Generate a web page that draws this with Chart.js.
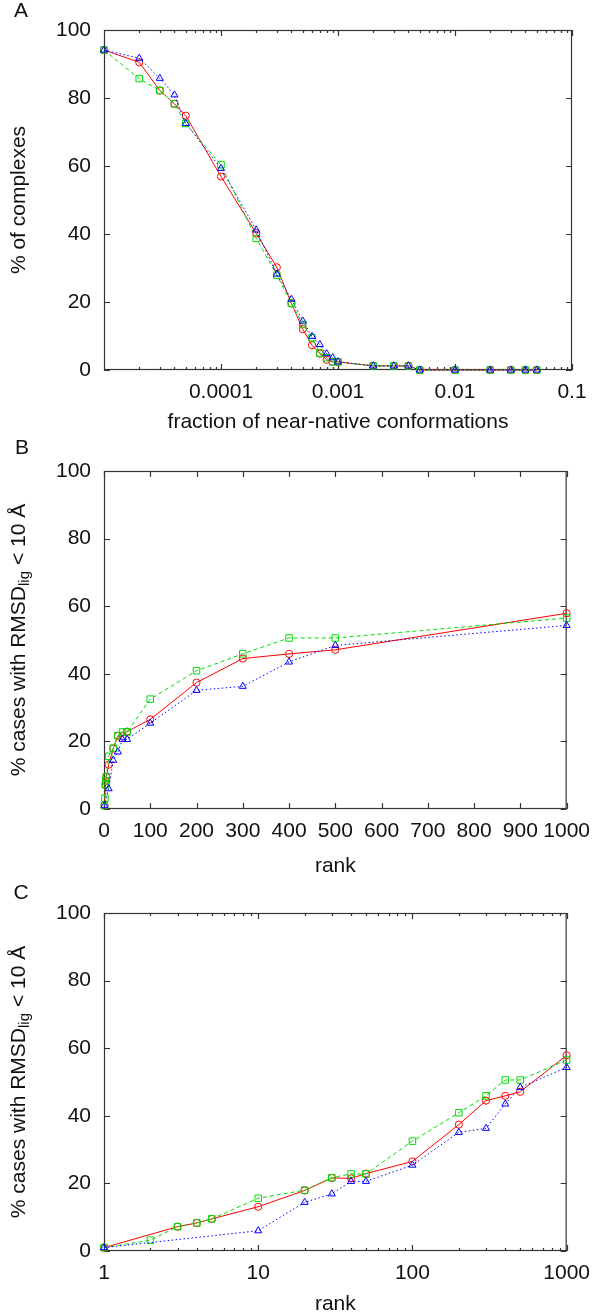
<!DOCTYPE html>
<html>
<head>
<meta charset="utf-8">
<script src="https://cdn.jsdelivr.net/npm/chart.js@4.4.1/dist/chart.umd.min.js"></script>
<style>
    html, body { margin: 0; padding: 0; background: #fff; }
    #page { position: relative; width: 600px; height: 1313px; overflow: hidden; }
    canvas { position: absolute; left: 0; }
</style>
</head>
<body>
<div id="page">
    <canvas id="chartA" width="600" height="440" style="top:0px"></canvas>
    <canvas id="chartB" width="600" height="441" style="top:440px"></canvas>
    <canvas id="chartC" width="600" height="432" style="top:881px"></canvas>
</div>
<script>
// Panel A: % of complexes vs fraction of near-native conformations
var fractions = [1e-5, 2e-5, 3e-5, 4e-5, 5e-5, 1e-4, 2e-4, 3e-4, 4e-4, 5e-4, 6e-4, 7e-4, 8e-4, 9e-4, 1e-3, 2e-3, 3e-3, 4e-3, 5e-3, 1e-2, 2e-2, 3e-2, 4e-2, 5e-2]
var complexesRed   = [94.1, 90.5, 82.2, 78.3, 74.8, 56.9, 40.2, 30.2, 19.6, 12.0, 7.3, 4.8, 3.0, 2.4, 2.4, 1.2, 1.2, 1.2, 0, 0, 0, 0, 0, 0]
var complexesGreen = [94.1, 85.7, 82.2, 78.3, 72.5, 60.4, 38.7, 27.9, 19.6, 13.4, 9.5, 5.0, 3.6, 2.4, 2.4, 1.2, 1.2, 1.2, 0, 0, 0, 0, 0, 0]
var complexesBlue  = [94.1, 91.7, 85.8, 80.9, 72.5, 59.3, 41.2, 28.2, 20.8, 14.4, 9.9, 7.5, 4.8, 3.6, 2.4, 1.2, 1.2, 1.2, 0, 0, 0, 0, 0, 0]

// Panels B and C: % cases with RMSD_lig < 10 A vs rank (null = no point)
var ranks = [1, 2, 3, 4, 5, 10, 20, 30, 40, 50, 100, 200, 300, 400, 500, 1000]
var casesRed   = [1.0, null, 7.2, 8.3, 9.5, 13.1, 17.9, 21.6, 21.5, 22.9, 26.5, 37.4, 44.5, 45.9, 47.1, 57.9]
var casesGreen = [1.0, 3.2, 7.2, 8.3, 9.5, 15.6, 18.0, 21.7, 22.8, 22.8, 32.5, 40.9, 45.9, 50.6, 50.6, 56.5]
var casesBlue  = [1.0, null, null, null, null, 6.0, 14.4, 16.9, 20.6, 20.6, 25.4, 35.1, 36.3, 43.5, 48.4, 54.3]

// Tick values and labels
var percentTicks = [0, 20, 40, 60, 80, 100]
var percentLabels = ['0', '20', '40', '60', '80', '100']
var fractionTicks = [1e-4, 1e-3, 1e-2, 1e-1]
var fractionLabels = ['0.0001', '0.001', '0.01', '0.1']
var rankLinearTicks = [0, 100, 200, 300, 400, 500, 600, 700, 800, 900, 1000]
var rankLinearLabels = ['0', '100', '200', '300', '400', '500', '600', '700', '800', '900', '1000']
var rankLogTicks = [1, 10, 100, 1000]
var rankLogLabels = ['1', '10', '100', '1000']

var RED = '#ff0000'
var GREEN = '#00dd00'
var BLUE = '#0000ff'
var TEXT = '#111111'
var FONT_FAMILY = '"Liberation Sans", Arial, Helvetica, sans-serif'
var FONT_SIZE = 21

/**
 * Pair x and y values into points, leaving out the missing ones
 */
function points(xs, ys) {
    var out = []
    for (var i = 0; i < xs.length; i++) {
        if (ys[i] !== null) out.push({ x: xs[i], y: ys[i] })
    }
    return out
}

/**
 * The three gnuplot-style series: red solid circles, green dashed squares, blue dotted triangles
 */
function makeDatasets(xs, red, green, blue) {
    var sets = [
        { data: points(xs, red), borderColor: RED, pointStyle: 'circle', pointRadius: 3.6, borderDash: [], order: 3 },
        { data: points(xs, green), borderColor: GREEN, pointStyle: 'rect', pointRadius: 4.6, borderDash: [4, 3], order: 2 },
        { data: points(xs, blue), borderColor: BLUE, pointStyle: 'triangle', pointRadius: 4.1, borderDash: [1.5, 2.5], order: 1 }
    ]
    return sets.map(ds => Object.assign({
        showLine: true,
        borderWidth: 1,
        pointBorderWidth: 1,
        pointBorderColor: ds.borderColor,
        backgroundColor: 'rgba(0,0,0,0)',
        pointBackgroundColor: 'rgba(0,0,0,0)',
        tension: 0,
        clip: false
    }, ds))
}

/**
 * Minor tick values of a log axis (2..9 within every decade)
 */
function logMinorTicks(min, max) {
    var out = []
    for (var e = Math.floor(Math.log10(min)); e < Math.ceil(Math.log10(max)); e++) {
        for (var m = 2; m <= 9; m++) {
            var v = m * Math.pow(10, e)
            if (v > min && v < max) out.push(v)
        }
    }
    return out
}

// Border box with inward ticks on all four sides
var framePlugin = {
    id: 'frame',
    beforeDatasetsDraw(chart) {
        var ctx = chart.ctx, a = chart.chartArea
        var xs = chart.scales.x, ys = chart.scales.y
        ctx.save()
        ctx.strokeStyle = '#333'
        ctx.lineWidth = 1.2
        ctx.strokeRect(a.left + 0.5, a.top + 0.5, a.right - a.left - 1, a.bottom - a.top - 1)
        ctx.beginPath()
        function xTick(v, len) {
            var px = Math.round(xs.getPixelForValue(v)) + 0.5
            ctx.moveTo(px, a.bottom); ctx.lineTo(px, a.bottom - len)
            ctx.moveTo(px, a.top); ctx.lineTo(px, a.top + len)
        }
        function yTick(v, len) {
            var py = Math.round(ys.getPixelForValue(v)) + 0.5
            ctx.moveTo(a.left, py); ctx.lineTo(a.left + len, py)
            ctx.moveTo(a.right, py); ctx.lineTo(a.right - len, py)
        }
        xs.ticks.forEach(t => xTick(t.value, 6))
        if (xs.type === 'logarithmic') logMinorTicks(xs.min, xs.max).forEach(v => xTick(v, 3))
        ys.ticks.forEach(t => yTick(t.value, 6))
        ctx.stroke()
        ctx.restore()
    }
}

// Panel letter and axis titles
var textPlugin = {
    id: 'panelText',
    afterDraw(chart, args, o) {
        var ctx = chart.ctx, a = chart.chartArea
        ctx.save()
        ctx.fillStyle = TEXT
        ctx.font = FONT_SIZE + 'px ' + FONT_FAMILY
        ctx.textAlign = 'center'
        ctx.textBaseline = 'middle'
        ctx.fillText(o.letter, o.letterX, o.letterY)
        ctx.fillText(o.xTitle, (a.left + a.right) / 2, a.bottom + o.xTitleGap)

        ctx.translate(o.yTitleX, (a.top + a.bottom) / 2)
        ctx.rotate(-Math.PI / 2)
        ctx.textAlign = 'left'
        var total = 0
        o.yTitle.forEach(p => {
            ctx.font = (p.sub ? 15 : FONT_SIZE) + 'px ' + FONT_FAMILY
            total += ctx.measureText(p.text).width
        })
        var x = -total / 2
        o.yTitle.forEach(p => {
            ctx.font = (p.sub ? 15 : FONT_SIZE) + 'px ' + FONT_FAMILY
            ctx.fillText(p.text, x, p.sub ? 6 : 0)
            x += ctx.measureText(p.text).width
        })
        ctx.restore()
    }
}

/**
 * Build one panel
 */
function makeChart(id, cfg) {
    var tickFont = { family: FONT_FAMILY, size: FONT_SIZE }
    return new Chart(document.getElementById(id), {
        type: 'scatter',
        data: { datasets: makeDatasets(cfg.xs, cfg.red, cfg.green, cfg.blue) },
        options: {
            responsive: false,
            animation: false,
            events: [],
            layout: { padding: { top: cfg.top, right: cfg.right, left: 0, bottom: 0 } },
            plugins: {
                legend: { display: false },
                tooltip: { enabled: false },
                panelText: cfg.text
            },
            scales: {
                x: {
                    type: cfg.xType,
                    min: cfg.xMin,
                    max: cfg.xMax,
                    afterBuildTicks: s => { s.ticks = cfg.xTicks.map(v => ({ value: v })) },
                    afterFit: s => { s.height = cfg.xHeight },
                    grid: { display: false, drawTicks: false },
                    border: { display: false },
                    ticks: {
                        autoSkip: false, maxRotation: 0, minRotation: 0, padding: 10,
                        color: TEXT, font: tickFont,
                        callback: (v, i) => cfg.xLabels[i]
                    }
                },
                y: {
                    type: 'linear',
                    min: 0,
                    max: 100,
                    afterBuildTicks: s => { s.ticks = percentTicks.map(v => ({ value: v })) },
                    afterFit: s => { s.width = 104 },
                    grid: { display: false, drawTicks: false },
                    border: { display: false },
                    ticks: {
                        padding: 13, color: TEXT, font: tickFont,
                        callback: (v, i) => percentLabels[i]
                    }
                }
            }
        },
        plugins: [framePlugin, textPlugin]
    })
}

var rmsdTitle = [
    { text: '% cases with RMSD' },
    { text: 'lig', sub: true },
    { text: ' < 10 Å' }
]

makeChart('chartA', {
    xs: fractions, red: complexesRed, green: complexesGreen, blue: complexesBlue,
    xType: 'logarithmic', xMin: 1e-5, xMax: 0.1, xTicks: fractionTicks, xLabels: fractionLabels,
    top: 30, right: 28, xHeight: 70,
    text: { letter: 'A', letterX: 21, letterY: 11, xTitle: 'fraction of near-native conformations', xTitleGap: 52, yTitleX: 19, yTitle: [{ text: '% of complexes' }] }
})

makeChart('chartB', {
    xs: ranks, red: casesRed, green: casesGreen, blue: casesBlue,
    xType: 'linear', xMin: 0, xMax: 1000, xTicks: rankLinearTicks, xLabels: rankLinearLabels,
    top: 31, right: 27, xHeight: 72,
    text: { letter: 'B', letterX: 22, letterY: 8, xTitle: 'rank', xTitleGap: 57, yTitleX: 19, yTitle: rmsdTitle }
})

makeChart('chartC', {
    xs: ranks, red: casesRed, green: casesGreen, blue: casesBlue,
    xType: 'logarithmic', xMin: 1, xMax: 1000, xTicks: rankLogTicks, xLabels: rankLogLabels,
    top: 32, right: 27, xHeight: 62,
    text: { letter: 'C', letterX: 21, letterY: 12, xTitle: 'rank', xTitleGap: 53, yTitleX: 19, yTitle: rmsdTitle }
})
</script>
</body>
</html>
